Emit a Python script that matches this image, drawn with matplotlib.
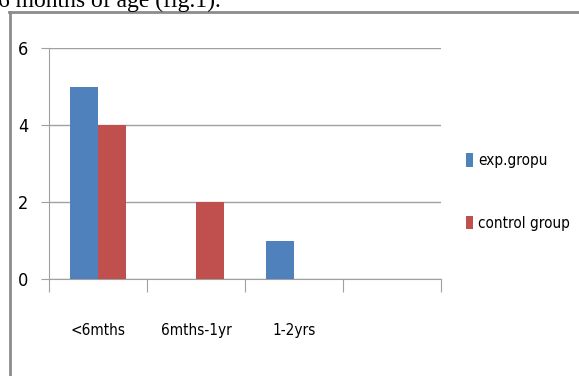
import numpy as np
import matplotlib.pyplot as plt
from matplotlib.lines import Line2D
from matplotlib import font_manager

# chart data
categories = ['<6mths', '6mths-1yr', '1-2yrs', '']
exp_group = [5, 0, 1, 0]
control_group = [4, 2, 0, 0]
series_names = ['exp.gropu', 'control group']
y_ticks = [0, 2, 4, 6]

blue = '#4F81BD'
red = '#C0504D'

# look for a condensed sans face, otherwise use Lato (fairly narrow)
names = {f.name for f in font_manager.fontManager.ttflist}
cond = [f for f in font_manager.fontManager.ttflist
        if f.stretch in ('condensed', 'semi-condensed') and 'Sans' in f.name]
if 'Liberation Sans Narrow' in names:
    narrow = ['Liberation Sans Narrow', 'DejaVu Sans']
    fs = 12
elif cond:
    narrow = [cond[0].name, 'DejaVu Sans']
    fs = 11
else:
    narrow = ['Lato', 'DejaVu Sans']
    fs = 11

W, H = 579, 376
fig = plt.figure(figsize=(W / 100, H / 100), dpi=100)

# plot area in pixel coords -> figure fraction
x0, x1 = 49, 441
ytop, ybot = 48, 279
ax = fig.add_axes([x0 / W, 1 - ybot / H, (x1 - x0) / W, (ybot - ytop) / H])

x = np.arange(len(categories))
bw = 0.29
ax.bar(x - bw / 2, exp_group, bw, color=blue, label=series_names[0], zorder=3)
ax.bar(x + bw / 2, control_group, bw, color=red, label=series_names[1], zorder=3)

ax.set_xlim(-0.5, len(categories) - 0.5)
ax.set_ylim(0, 6)
ax.set_yticks(y_ticks)
ax.set_yticklabels([str(v) for v in y_ticks], family=narrow, fontsize=13,
                   stretch='condensed')
ax.yaxis.grid(True, color='#A0A0A0', linewidth=1.0, zorder=0)
ax.tick_params(axis='y', length=6, color='#A0A0A0', pad=9)

# category boundary ticks, labels centered under groups
ax.set_xticks(np.arange(len(categories) + 1) - 0.5)
ax.set_xticklabels([])
ax.tick_params(axis='x', length=9, color='#A0A0A0')
for i, c in enumerate(categories):
    ax.text(i, -1.35, c, ha='center', va='center', family=narrow, fontsize=fs,
            stretch='condensed')

for s in ['top', 'right']:
    ax.spines[s].set_visible(False)
ax.spines['left'].set_color('#A0A0A0')
ax.spines['bottom'].set_color('#A0A0A0')

# legend
leg = fig.legend(loc='center left', bbox_to_anchor=(466 / W, 1 - 192 / H),
                 frameon=False, borderpad=0, borderaxespad=0,
                 prop={'family': narrow, 'size': fs, 'stretch': 'condensed'},
                 handlelength=0.45, handleheight=1.0, handletextpad=0.35,
                 labelspacing=3.1)

# outer frame of the embedded chart
fig.add_artist(Line2D([10 / W, 10 / W], [0, 1 - 12 / H], color='#8C8C8C', lw=2))
fig.add_artist(Line2D([9 / W, 1], [1 - 12 / H, 1 - 12 / H], color='#8C8C8C', lw=2))

# cut-off caption from the page above
fig.text(-0.004, 1 - 7 / H, '6 months of age (fig.1).', family='Liberation Serif',
         fontsize=17, ha='left', va='baseline')

fig.savefig('out.png', dpi=100)
